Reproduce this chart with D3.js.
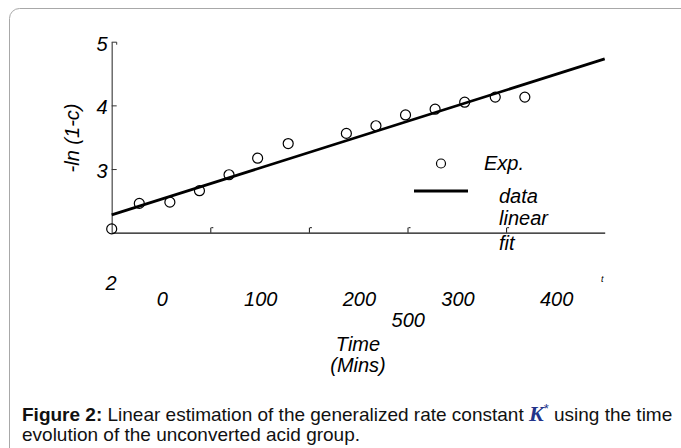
<!DOCTYPE html>
<html>
<head>
<meta charset="utf-8">
<script src="https://cdn.jsdelivr.net/npm/d3@7"></script>
<style>
  body { margin: 0; background: #fff; }
  svg { display: block; }
  .lbl { font-family: "Liberation Sans", Arial, sans-serif; font-style: italic; fill: #000; }
  .cap { font-family: "Liberation Sans", Arial, sans-serif; font-size: 19px; fill: #111; }
</style>
</head>
<body>
<div id="chart"></div>
<script>
  // experimental points
  var timeMins = [0, 28, 59, 89, 119, 148, 179, 238, 268, 298, 328, 358, 389, 419];
  var lnValues = [2.06, 2.46, 2.48, 2.66, 2.91, 3.17, 3.40, 3.56, 3.68, 3.85, 3.94, 4.05, 4.13, 4.13];
  // linear fit end points
  var fitTime = [0, 500];
  var fitValue = [2.28, 4.73];
  // tick values
  var xTicks = [0, 100, 200, 300, 400, 500];
  var yTicks = [2, 3, 4, 5];
  var legendLabels = ["Exp.", "data", "linear", "fit"];

  var width = 681, height = 448;

  var svg = d3.select("#chart")
    .append("svg")
    .attr("width", width)
    .attr("height", height);

  // panel frame (runs off right and bottom)
  svg.append("rect")
    .attr("x", 9.5).attr("y", 8.5)
    .attr("width", 700).attr("height", 480)
    .attr("rx", 10)
    .attr("fill", "#fff")
    .attr("stroke", "#a8a8a8");

  var x = d3.scaleLinear().domain([0, 500]).range([111.7, 604.7]);
  var y = d3.scaleLinear().domain([2, 5]).range([232.7, 41.7]);

  // x axis, labels pushed down/right like the source
  var gx = svg.append("g")
    .attr("transform", "translate(0," + y(2) + ")")
    .call(d3.axisBottom(x).tickValues(xTicks).tickSizeInner(-5).tickSizeOuter(0).tickFormat(d3.format("d")));
  gx.select(".domain").attr("stroke", "#111").attr("stroke-width", 1.3);
  gx.selectAll(".tick line").attr("stroke", "#111")
    .style("display", function(d) { return d === 0 || d === 500 ? "none" : null; });
  gx.selectAll(".tick").filter(function(d) { return d > 0 && d < 500; })
    .append("path").attr("d", "M0.5,-5H2.5").attr("stroke", "#111").attr("fill", "none");
  gx.selectAll(".tick text")
    .attr("class", "lbl")
    .attr("font-size", 20)
    .attr("fill", "#000")
    .attr("dy", null)
    .attr("x", function(d) { return d === 500 ? -197 : 50; })
    .attr("y", function(d) { return d === 500 ? 94 : 73; });
  svg.append("text").attr("class", "lbl")
    .attr("x", 601).attr("y", 282).attr("font-size", 9).attr("font-style", "normal").text("t");

  // y axis
  var gy = svg.append("g")
    .attr("transform", "translate(" + x(0) + ",0)")
    .call(d3.axisLeft(y).tickValues(yTicks).tickSizeInner(-5).tickSizeOuter(0).tickFormat(d3.format("d")));
  gy.select(".domain").attr("stroke", "#555").attr("stroke-width", 1.3);
  gy.selectAll(".tick line").attr("stroke", "#333")
    .style("display", function(d) { return d === 2 ? "none" : null; });
  gy.selectAll(".tick").filter(function(d) { return d === 5; })
    .append("path").attr("d", "M5,0V2.5").attr("stroke", "#333").attr("fill", "none");
  gy.selectAll(".tick text")
    .attr("class", "lbl")
    .attr("font-size", 20)
    .attr("fill", "#000")
    .attr("dy", null)
    .attr("x", function(d) { return d === 2 ? 5 : -4; })
    .attr("y", function(d) { return d === 2 ? 57 : 8.5; });

  // axis titles
  svg.append("text").attr("class", "lbl")
    .attr("transform", "translate(79,138) rotate(-90)")
    .attr("text-anchor", "middle").attr("font-size", 20)
    .text("-ln (1-c)");
  svg.append("text").attr("class", "lbl")
    .attr("x", 358).attr("y", 351).attr("text-anchor", "middle").attr("font-size", 20)
    .text("Time");
  svg.append("text").attr("class", "lbl")
    .attr("x", 358).attr("y", 372).attr("text-anchor", "middle").attr("font-size", 20)
    .text("(Mins)");

  // fit line
  var fitLine = d3.line()
    .x(function(d) { return x(d[0]); })
    .y(function(d) { return y(d[1]); });
  svg.append("path")
    .datum(d3.zip(fitTime, fitValue))
    .attr("d", fitLine)
    .attr("fill", "none")
    .attr("stroke", "#000")
    .attr("stroke-width", 2.8);

  // points
  svg.selectAll("circle.pt")
    .data(d3.zip(timeMins, lnValues))
    .enter()
    .append("circle")
    .attr("class", "pt")
    .attr("cx", function(d) { return x(d[0]); })
    .attr("cy", function(d) { return y(d[1]); })
    .attr("r", 5)
    .attr("fill", "none")
    .attr("stroke", "#000")
    .attr("stroke-width", 1.2);

  // legend
  var lg = svg.append("g").attr("transform", "translate(414,163.5)");
  lg.append("circle").attr("cx", 27).attr("cy", 0).attr("r", 4.5)
    .attr("fill", "none").attr("stroke", "#000").attr("stroke-width", 1.2);
  lg.append("line").attr("x1", 0).attr("x2", 54).attr("y1", 27.5).attr("y2", 27.5)
    .attr("stroke", "#000").attr("stroke-width", 2.8);
  lg.selectAll("text.leg")
    .data(legendLabels)
    .enter()
    .append("text")
    .attr("class", "lbl leg")
    .attr("font-size", 20)
    .attr("x", function(d, i) { return i === 0 ? 70 : 85; })
    .attr("y", function(d, i) { return [6, 39, 61.5, 86.5][i]; })
    .text(function(d) { return d; });

  // caption
  var cap1 = svg.append("text").attr("class", "cap").attr("x", 22).attr("y", 421);
  cap1.append("tspan").attr("font-weight", "bold").text("Figure 2:");
  cap1.append("tspan").text(" Linear estimation of the generalized rate constant ");
  cap1.append("tspan")
    .attr("font-family", "'Liberation Serif', 'Times New Roman', serif")
    .attr("font-style", "italic").attr("font-weight", "bold")
    .attr("font-size", 22).attr("fill", "#22338a").text("K");
  cap1.append("tspan")
    .attr("font-size", 13).attr("dy", -8).attr("fill", "#22338a").text("*");
  cap1.append("tspan").attr("dy", 8).text(" using the time");
  svg.append("text").attr("class", "cap").attr("x", 22).attr("y", 441)
    .text("evolution of the unconverted acid group.");
</script>
</body>
</html>
